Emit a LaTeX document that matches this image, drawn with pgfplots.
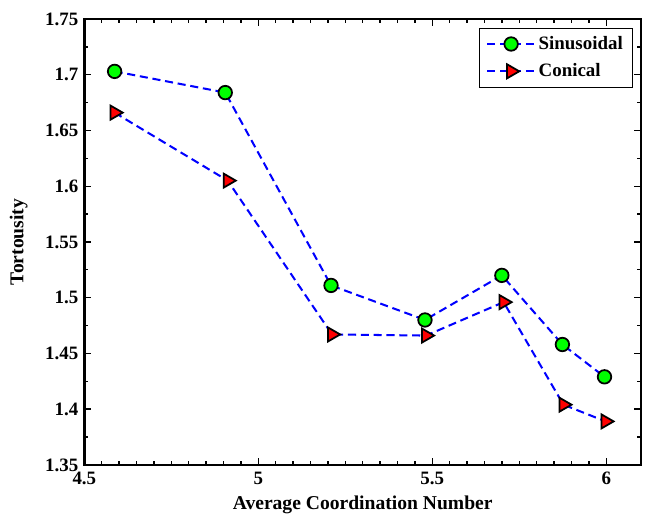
\documentclass[border={4pt 0pt 5pt 6pt}]{standalone}
\usepackage{pgfplots}
\pgfplotsset{compat=1.18}
\usepackage{fontspec}
\setmainfont{Liberation Serif}
\begin{document}
\begin{tikzpicture}
\begin{axis}[
  scale only axis,
  width=412pt, height=330pt,
  xmin=4.5, xmax=6.1, ymin=1.35, ymax=1.75,
  xtick={4.5,5,5.5,6}, ytick={1.35,1.4,1.45,1.5,1.55,1.6,1.65,1.7,1.75},
  xticklabels={\textbf{4.5},\textbf{5},\textbf{5.5},\textbf{6}},
  yticklabels={\textbf{1.35},\textbf{1.4},\textbf{1.45},\textbf{1.5},\textbf{1.55},\textbf{1.6},\textbf{1.65},\textbf{1.7},\textbf{1.75}},
  minor x tick num=9, minor y tick num=1,
  tick align=inside, axis line style={line width=1.8pt},
  major tick length=5pt, minor tick length=3pt,
  every tick/.style={black, line width=1pt},
  ticklabel style={font=\fontsize{14}{16}\selectfont},
  xticklabel style={yshift=-2pt},
  yticklabel style={xshift=-1pt},
  xlabel={\textbf{Average Coordination Number}},
  ylabel={\textbf{Tortousity}},
  label style={font=\fontsize{14.5}{16}\selectfont},
  xlabel style={yshift=-1pt},
  ylabel style={yshift=6pt},
  legend style={at={(0.985,0.98)}, anchor=north east, draw=black, line width=0.6pt, font=\fontsize{14}{16}\selectfont\bfseries, row sep=5pt, inner xsep=5pt, inner ysep=4pt},
  legend cell align=left,
  legend image code/.code={\draw[#1] (0cm,0cm) -- (0.62cm,0cm); \draw[#1, mark repeat=2, mark phase=2] plot coordinates {(0cm,0cm) (0.62cm,0cm) (1.24cm,0cm)};},
]
\addplot[blue, line width=1.5pt, dash pattern=on 6pt off 3.5pt,
  mark=*, mark size=5pt, mark options={solid, fill=green, draw=black, line width=1.3pt}]
  coordinates {(4.587,1.703) (4.905,1.684) (5.209,1.511) (5.479,1.480) (5.70,1.520) (5.874,1.458) (5.995,1.429)};
\addlegendentry{Sinusoidal}
\addplot[blue, line width=1.5pt, dash pattern=on 6pt off 3.5pt,
  mark=triangle*, mark size=6pt, mark options={solid, rotate=-90, fill=red, draw=black, line width=1.3pt}]
  coordinates {(4.587,1.666) (4.912,1.605) (5.212,1.467) (5.482,1.466) (5.705,1.496) (5.877,1.404) (5.998,1.389)};
\addlegendentry{Conical}
\end{axis}
\end{tikzpicture}
\end{document}
